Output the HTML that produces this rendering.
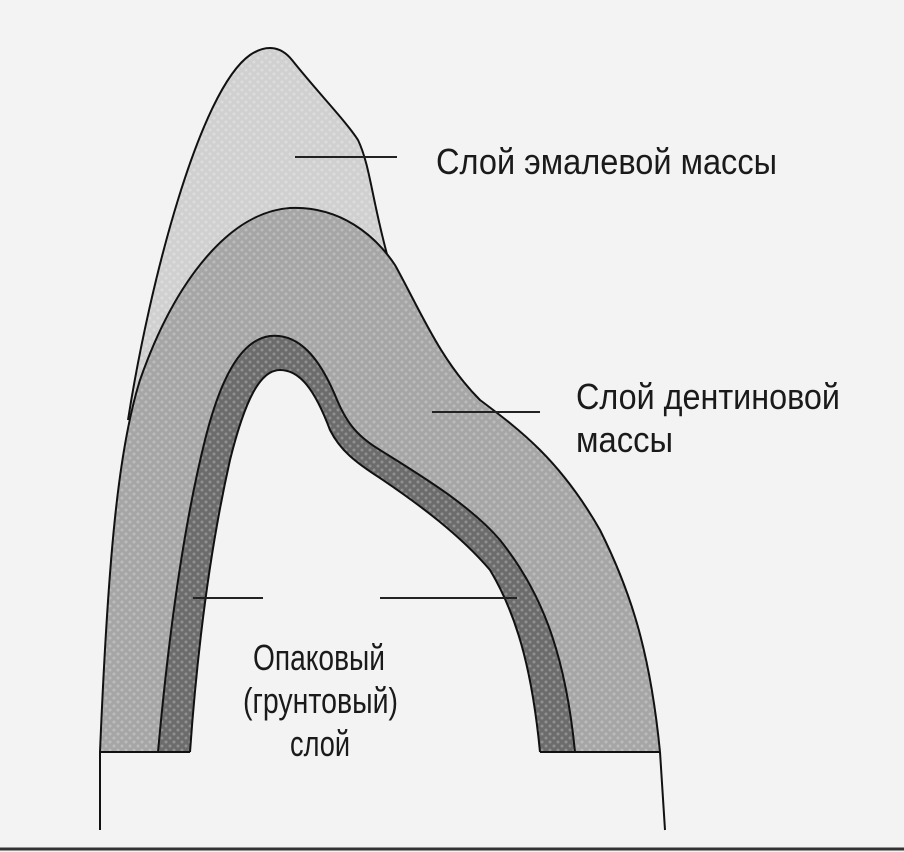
<!DOCTYPE html>
<html><head><meta charset="utf-8"><style>
html,body{margin:0;padding:0;background:#f3f3f3;}
svg{display:block;}
text{font-family:"Liberation Sans Narrow","Liberation Sans",sans-serif;fill:#1a1a1a;font-size:36px;}
</style></head><body>
<svg width="904" height="852" viewBox="0 0 904 852" xmlns="http://www.w3.org/2000/svg">
<defs>
<pattern id="dots" width="8" height="8" patternUnits="userSpaceOnUse">
<circle cx="2" cy="2" r="1.5" fill="#fff" opacity="0.25"/><circle cx="6" cy="6" r="1.5" fill="#fff" opacity="0.25"/>
</pattern>
</defs>
<rect width="904" height="852" fill="#f3f3f3"/>
<line x1="0" y1="849" x2="904" y2="849" stroke="#333" stroke-width="3"/>
<!-- enamel -->
<path d="M128,420 C150,280 200,90 250,55 C265,45 280,45 292,60 C320,95 345,120 358,140 C370,165 372,200 388,258 L128,420 Z" fill="#d0d0d0"/>
<path d="M128,420 C150,280 200,90 250,55 C265,45 280,45 292,60 C320,95 345,120 358,140 C370,165 372,200 388,258 L128,420 Z" fill="url(#dots)"/>
<path d="M128,420 C150,280 200,90 250,55 C265,45 280,45 292,60 C320,95 345,120 358,140 C370,165 372,200 388,258" fill="none" stroke="#111" stroke-width="2"/>
<!-- dentin -->
<path d="M100,752 C108,560 118,450 140,380 C175,280 230,212 290,208 C340,206 375,235 395,265 C420,310 440,360 480,400 C520,430 560,460 600,530 C630,590 650,650 660,752" fill="#a6a6a6"/>
<path d="M100,752 C108,560 118,450 140,380 C175,280 230,212 290,208 C340,206 375,235 395,265 C420,310 440,360 480,400 C520,430 560,460 600,530 C630,590 650,650 660,752" fill="url(#dots)"/>
<path d="M100,752 C108,560 118,450 140,380 C175,280 230,212 290,208 C340,206 375,235 395,265 C420,310 440,360 480,400 C520,430 560,460 600,530 C630,590 650,650 660,752" fill="none" stroke="#111" stroke-width="2"/>
<!-- opaque -->
<path d="M158,752 C170,620 185,520 205,440 C220,380 240,340 270,336 C300,333 320,360 335,395 C345,420 355,435 380,450 C420,475 470,505 500,540 C540,590 565,650 575,752" fill="#6c6c6c"/>
<path d="M158,752 C170,620 185,520 205,440 C220,380 240,340 270,336 C300,333 320,360 335,395 C345,420 355,435 380,450 C420,475 470,505 500,540 C540,590 565,650 575,752" fill="url(#dots)"/>
<path d="M158,752 C170,620 185,520 205,440 C220,380 240,340 270,336 C300,333 320,360 335,395 C345,420 355,435 380,450 C420,475 470,505 500,540 C540,590 565,650 575,752" fill="none" stroke="#111" stroke-width="2"/>
<path d="M190,752 C198,640 212,540 230,460 C245,400 260,370 280,370 C300,370 315,390 330,430 C340,450 355,462 380,478 C420,505 460,535 490,570 C520,620 533,680 540,752" fill="#f3f3f3"/>
<path d="M190,752 C198,640 212,540 230,460 C245,400 260,370 280,370 C300,370 315,390 330,430 C340,450 355,462 380,478 C420,505 460,535 490,570 C520,620 533,680 540,752" fill="none" stroke="#111" stroke-width="2"/>
<rect x="100" y="753" width="565" height="90" fill="#f3f3f3"/>
<!-- base lines -->
<path d="M100,752 L190,752 M540,752 L660,752 M100,752 L100,830 M660,752 L665,830" stroke="#111" stroke-width="2" fill="none"/>
<!-- leaders -->
<g stroke="#222" stroke-width="2">
<line x1="295" y1="157" x2="397" y2="157"/>
<line x1="432" y1="412" x2="540" y2="412"/>
<line x1="193" y1="598" x2="263" y2="598"/>
<line x1="380" y1="598" x2="517" y2="598"/>
</g>
<text x="436" y="174" textLength="341" lengthAdjust="spacingAndGlyphs">Слой эмалевой массы</text>
<text x="576" y="409" textLength="264" lengthAdjust="spacingAndGlyphs">Слой дентиновой</text>
<text x="576" y="452" textLength="97" lengthAdjust="spacingAndGlyphs">массы</text>
<text x="253" y="670" textLength="132" lengthAdjust="spacingAndGlyphs">Опаковый</text>
<text x="243" y="713" textLength="155" lengthAdjust="spacingAndGlyphs">(грунтовый)</text>
<text x="290" y="756" textLength="60" lengthAdjust="spacingAndGlyphs">слой</text>
</svg>
</body></html>
